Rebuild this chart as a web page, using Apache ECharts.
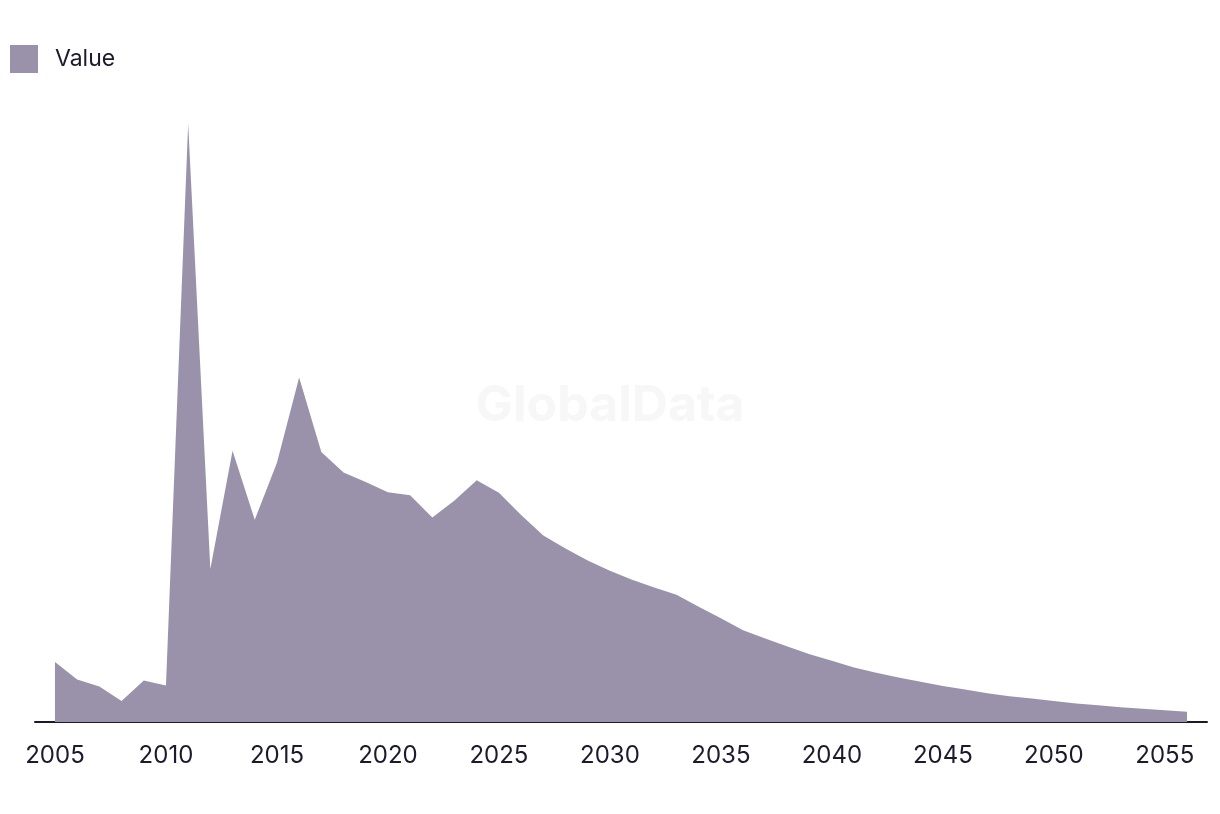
<!DOCTYPE html>
<html>
<head>
<meta charset="utf-8">
<script src="https://cdn.jsdelivr.net/npm/echarts@6/dist/echarts.min.js"></script>
<style>html,body{margin:0;padding:0;background:#fff}#c{width:1220px;height:814px}</style>
</head>
<body>
<div id="c"></div>
<script>
const years = [];
for (let y = 2005; y <= 2056; y++) years.push(y);
const values = [1.0,0.71,0.59,0.35,0.69,0.61,9.97,2.55,4.52,3.37,4.32,5.74,4.5,4.16,4.0,3.83,3.78,3.41,3.69,4.03,3.82,3.45,3.11,2.89,2.69,2.52,2.37,2.24,2.12,1.92,1.73,1.53,1.39,1.26,1.13,1.02,0.91,0.82,0.74,0.67,0.60,0.54,0.48,0.43,0.39,0.35,0.31,0.28,0.245,0.22,0.195,0.17];
const tickLabels = [2005,2010,2015,2020,2025,2030,2035,2040,2045,2050,2055];
const seriesName = 'Value';

const chart = echarts.init(document.getElementById('c'));
chart.setOption({
  animation: false,
  textStyle: {fontFamily: 'Inter, "Noto Sans", sans-serif'},
  legend: {
    left: 5, top: 40, icon: 'rect', itemWidth: 28, itemHeight: 28,
    textStyle: {fontSize: 23, color: '#1c1b2e', padding: [0,0,0,12], fontFamily: 'Inter'},
    data: [seriesName]
  },
  graphic: [{
    type: 'text', left: 'center', top: 381, z: -1,
    style: {text: 'GlobalData', fontSize: 50, fontWeight: 'bold', fill: '#f7f7f7', fontFamily: 'Inter'}
  }],
  grid: {left: 35, right: 13, top: 122, bottom: 92},
  xAxis: {
    type: 'value', min: 2004.1, max: 2056.9,
    axisLine: {show: true, lineStyle: {color: '#1a1a2e', width: 2}},
    axisTick: {show: false},
    splitLine: {show: false},
    axisLabel: {
      customValues: tickLabels, fontSize: 24, color: '#1c1b2e', margin: 22,
      formatter: v => String(v), fontFamily: 'Inter'
    }
  },
  yAxis: {type: 'value', min: 0, max: 10, show: false},
  series: [{
    name: seriesName, type: 'line', symbol: 'none',
    data: years.map((y, i) => [y, values[i]]),
    lineStyle: {width: 0},
    itemStyle: {color: '#9a92ab'},
    areaStyle: {color: '#9a92ab', opacity: 1}
  }]
});
</script>
</body>
</html>
